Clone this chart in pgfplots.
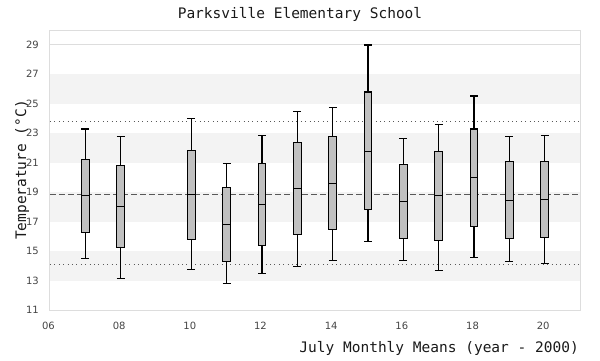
\documentclass[border=0pt]{standalone}
\usepackage{fontspec}
\setmainfont{DejaVu Sans}
\newfontfamily\monof{DejaVu Sans Mono}
\usepackage{pgfplots}
\pgfplotsset{compat=1.18}
\usepgfplotslibrary{statistics}
\definecolor{band}{HTML}{F3F3F3}
\definecolor{gridc}{HTML}{DDDDDD}
\definecolor{boxc}{HTML}{C0C0C0}
\definecolor{tickc}{HTML}{444444}
\begin{document}
\begin{tikzpicture}
\begin{axis}[
  set layers=standard,
  scale only axis, width=530pt, height=280pt,
  xmin=6, xmax=21, ymin=11, ymax=30,
  xtick={6,8,10,12,14,16,18,20},
  xticklabels={06,08,10,12,14,16,18,20},
  ytick={11,13,15,17,19,21,23,25,27,29},
  /pgf/number format/assume math mode=true,
  major tick length=0pt,
  ymajorgrids, grid style={gridc, line width=0.8pt},
  axis line style={gridc, line width=1pt},
  tick label style={font=\fontsize{10}{11}\selectfont, text=tickc},
  yticklabel style={inner sep=0pt, anchor=east, xshift=-11pt},
  xticklabel style={inner sep=0pt, anchor=north, yshift=-12pt, xshift=-1.5pt},
  xlabel={July Monthly Means (year - 2000)},
  xlabel style={font=\monof\fontsize{14.5}{16}\selectfont, text=black!90, at={(axis description cs:1,0)}, anchor=base east, yshift=-42pt, xshift=-1pt, inner sep=0pt},
  ylabel={Temperature (°C)},
  ylabel style={font=\monof\fontsize{14.5}{16}\selectfont, text=black!90, at={(axis description cs:0,0.5)}, anchor=base, yshift=24pt, inner sep=0pt},
  boxplot/draw direction=y,
  boxplot/box extend=0.22,
  boxplot/whisker extend=0.22,
]
\fill[band, on layer=axis background] (axis cs:6,13) rectangle (axis cs:21,15);
\fill[band, on layer=axis background] (axis cs:6,17) rectangle (axis cs:21,19);
\fill[band, on layer=axis background] (axis cs:6,21) rectangle (axis cs:21,23);
\fill[band, on layer=axis background] (axis cs:6,25) rectangle (axis cs:21,27);
\addplot[black!65, line width=0.9pt, dash pattern=on 0.9pt off 3.5pt] coordinates {(6,23.82) (21,23.82)};
\addplot[black!65, line width=0.9pt, dash pattern=on 0.9pt off 3.5pt] coordinates {(6,14.10) (21,14.10)};
\addplot[black!65, line width=1pt, dash pattern=on 6pt off 3pt] coordinates {(6,18.86) (21,18.86)};
\addplot[boxplot prepared={draw position=7, lower whisker=14.51, lower quartile=16.28, median=18.79, upper quartile=21.24, upper whisker=23.28}, draw=black, fill=boxc, line width=1.1pt] coordinates {};
\addplot[boxplot prepared={draw position=8, lower whisker=13.15, lower quartile=15.26, median=18.04, upper quartile=20.83, upper whisker=22.80}, draw=black, fill=boxc, line width=1.1pt] coordinates {};
\addplot[boxplot prepared={draw position=10, lower whisker=13.76, lower quartile=15.78, median=18.83, upper quartile=21.85, upper whisker=24.02}, draw=black, fill=boxc, line width=1.1pt] coordinates {};
\addplot[boxplot prepared={draw position=11, lower whisker=12.81, lower quartile=14.31, median=16.82, upper quartile=19.33, upper whisker=20.96}, draw=black, fill=boxc, line width=1.1pt] coordinates {};
\addplot[boxplot prepared={draw position=12, lower whisker=13.49, lower quartile=15.37, median=18.18, upper quartile=20.96, upper whisker=22.87}, draw=black, fill=boxc, line width=1.1pt] coordinates {};
\addplot[boxplot prepared={draw position=13, lower whisker=13.97, lower quartile=16.14, median=19.27, upper quartile=22.39, upper whisker=24.50}, draw=black, fill=boxc, line width=1.1pt] coordinates {};
\addplot[boxplot prepared={draw position=14, lower whisker=14.38, lower quartile=16.48, median=19.60, upper quartile=22.75, upper whisker=24.77}, draw=black, fill=boxc, line width=1.1pt] coordinates {};
\addplot[boxplot prepared={draw position=15, lower whisker=15.67, lower quartile=17.84, median=21.78, upper quartile=25.79, upper whisker=28.98}, draw=black, fill=boxc, line width=1.1pt] coordinates {};
\addplot[boxplot prepared={draw position=16, lower whisker=14.38, lower quartile=15.87, median=18.38, upper quartile=20.90, upper whisker=22.66}, draw=black, fill=boxc, line width=1.1pt] coordinates {};
\addplot[boxplot prepared={draw position=17, lower whisker=13.70, lower quartile=15.73, median=18.79, upper quartile=21.78, upper whisker=23.61}, draw=black, fill=boxc, line width=1.1pt] coordinates {};
\addplot[boxplot prepared={draw position=18, lower whisker=14.58, lower quartile=16.68, median=20.01, upper quartile=23.28, upper whisker=25.52}, draw=black, fill=boxc, line width=1.1pt] coordinates {};
\addplot[boxplot prepared={draw position=19, lower whisker=14.31, lower quartile=15.87, median=18.45, upper quartile=21.10, upper whisker=22.80}, draw=black, fill=boxc, line width=1.1pt] coordinates {};
\addplot[boxplot prepared={draw position=20, lower whisker=14.17, lower quartile=15.94, median=18.52, upper quartile=21.10, upper whisker=22.87}, draw=black, fill=boxc, line width=1.1pt] coordinates {};
\end{axis}
\node[font=\monof\fontsize{14.5}{16}\selectfont, text=black!90, inner sep=0pt] at (250pt,296pt) {Parksville Elementary School};
\pgfresetboundingbox
\path[use as bounding box] (-50pt,-50pt) rectangle (550pt,310pt);
\end{tikzpicture}
\end{document}
